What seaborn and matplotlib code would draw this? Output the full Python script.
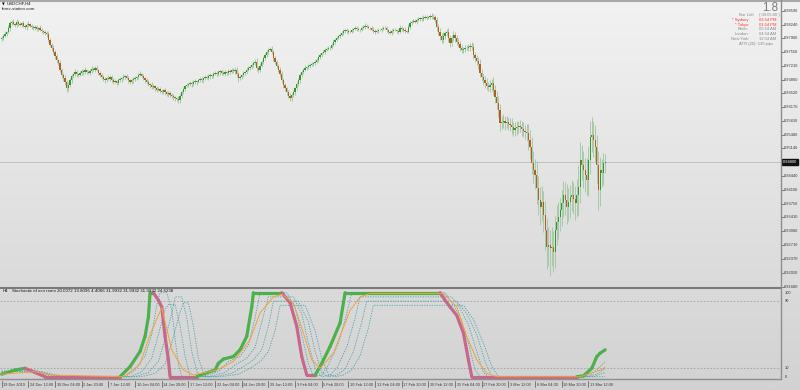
import numpy as np
import pandas as pd
import matplotlib
matplotlib.use("Agg")
import matplotlib.pyplot as plt
import seaborn as sns
from matplotlib.collections import LineCollection
from matplotlib.lines import Line2D
from matplotlib.transforms import blended_transform_factory as blend

sns.set_theme(style="white")
plt.rcParams["font.family"] = ["Liberation Sans", "DejaVu Sans"]

# ---------------- data ----------------
symbol = "USDCHF,H4"
first_open = 0.9788
close = [
    0.9791, 0.9796, 0.9801, 0.9806, 0.9816, 0.9828, 0.9831, 0.9826, 0.9823, 0.9831,
    0.9826, 0.9823, 0.9828, 0.9821, 0.9818, 0.9823, 0.9826, 0.9821, 0.9818, 0.9816,
    0.9818, 0.9813, 0.9816, 0.9811, 0.9808, 0.9806, 0.9803, 0.9801, 0.9786, 0.9773,
    0.9766, 0.9756, 0.9745, 0.9735, 0.9728, 0.9711, 0.9698, 0.9690, 0.9680, 0.9665,
    0.9673, 0.9685, 0.9695, 0.9700, 0.9705, 0.9700, 0.9698, 0.9703, 0.9708, 0.9705,
    0.9711, 0.9705, 0.9703, 0.9708, 0.9713, 0.9711, 0.9716, 0.9711, 0.9703, 0.9698,
    0.9693, 0.9688, 0.9685, 0.9690, 0.9688, 0.9693, 0.9685, 0.9680, 0.9683, 0.9678,
    0.9685, 0.9688, 0.9690, 0.9693, 0.9695, 0.9690, 0.9685, 0.9680, 0.9685, 0.9688,
    0.9690, 0.9693, 0.9698, 0.9700, 0.9695, 0.9690, 0.9685, 0.9680, 0.9675, 0.9673,
    0.9668, 0.9670, 0.9665, 0.9660, 0.9663, 0.9658, 0.9655, 0.9660, 0.9655, 0.9650,
    0.9653, 0.9648, 0.9645, 0.9643, 0.9640, 0.9638, 0.9635, 0.9645, 0.9655, 0.9663,
    0.9670, 0.9673, 0.9675, 0.9678, 0.9675, 0.9680, 0.9683, 0.9680, 0.9685, 0.9688,
    0.9685, 0.9690, 0.9693, 0.9690, 0.9695, 0.9698, 0.9695, 0.9700, 0.9703, 0.9700,
    0.9705, 0.9708, 0.9703, 0.9700, 0.9705, 0.9703, 0.9708, 0.9705, 0.9711, 0.9708,
    0.9711, 0.9700, 0.9690, 0.9693, 0.9698, 0.9703, 0.9705, 0.9711, 0.9716, 0.9718,
    0.9723, 0.9728, 0.9731, 0.9716, 0.9711, 0.9721, 0.9731, 0.9740, 0.9748, 0.9756,
    0.9761, 0.9763, 0.9756, 0.9740, 0.9731, 0.9721, 0.9711, 0.9700, 0.9685, 0.9673,
    0.9665, 0.9655, 0.9645, 0.9640, 0.9648, 0.9655, 0.9665, 0.9675, 0.9685, 0.9698,
    0.9705, 0.9711, 0.9716, 0.9718, 0.9721, 0.9723, 0.9726, 0.9728, 0.9731, 0.9735,
    0.9743, 0.9748, 0.9753, 0.9756, 0.9761, 0.9763, 0.9766, 0.9766, 0.9773, 0.9781,
    0.9786, 0.9791, 0.9796, 0.9798, 0.9803, 0.9808, 0.9811, 0.9808, 0.9806, 0.9806,
    0.9811, 0.9813, 0.9816, 0.9813, 0.9811, 0.9811, 0.9816, 0.9818, 0.9821, 0.9818,
    0.9816, 0.9816, 0.9811, 0.9808, 0.9806, 0.9808, 0.9811, 0.9811, 0.9813, 0.9816,
    0.9816, 0.9811, 0.9806, 0.9803, 0.9808, 0.9811, 0.9811, 0.9808, 0.9806, 0.9816,
    0.9813, 0.9811, 0.9808, 0.9806, 0.9818, 0.9828, 0.9831, 0.9833, 0.9831, 0.9836,
    0.9838, 0.9841, 0.9838, 0.9841, 0.9843, 0.9841, 0.9843, 0.9846, 0.9843, 0.9843,
    0.9836, 0.9818, 0.9806, 0.9796, 0.9786, 0.9796, 0.9803, 0.9806, 0.9791, 0.9778,
    0.9791, 0.9798, 0.9791, 0.9781, 0.9776, 0.9766, 0.9761, 0.9763, 0.9766, 0.9766,
    0.9768, 0.9771, 0.9768, 0.9748, 0.9740, 0.9733, 0.9726, 0.9703, 0.9693, 0.9685,
    0.9678, 0.9670, 0.9668, 0.9673, 0.9678, 0.9660, 0.9643, 0.9628, 0.9610, 0.9578,
    0.9580, 0.9583, 0.9578, 0.9580, 0.9575, 0.9573, 0.9568, 0.9560, 0.9565, 0.9568,
    0.9570, 0.9568, 0.9563, 0.9558, 0.9555, 0.9553, 0.9535, 0.9518, 0.9478, 0.9460,
    0.9448, 0.9415, 0.9385, 0.9367, 0.9380, 0.9347, 0.9310, 0.9267, 0.9272, 0.9265,
    0.9267, 0.9255, 0.9310, 0.9330, 0.9342, 0.9360, 0.9377, 0.9397, 0.9385, 0.9367,
    0.9380, 0.9392, 0.9397, 0.9387, 0.9377, 0.9397, 0.9417, 0.9485, 0.9473, 0.9460,
    0.9448, 0.9435, 0.9485, 0.9543, 0.9548, 0.9535, 0.9518, 0.9473, 0.9410, 0.9460,
    0.9452, 0.9478, 0.9480,
]
wick_up = [  # pips
    5,4,6,3,8,5,4,6,3,7,4,5,3,6,4,5,7,3,4,6,
    4,5,3,6,4,3,5,4,6,5,4,7,5,6,4,8,5,6,7,5,
    8,6,5,4,7,5,3,6,4,5,6,3,5,4,7,4,5,6,3,5,
    4,6,5,3,7,4,5,6,4,3,6,5,4,7,3,5,6,4,5,4,
    6,3,5,7,4,5,3,6,5,4,7,5,3,6,4,5,6,4,5,3,
    5,4,6,5,3,4,7,8,6,5,4,6,3,5,4,6,5,3,4,6,
    5,3,4,6,5,4,3,5,6,4,5,3,6,4,5,3,4,6,5,4,
    6,8,5,4,3,5,4,6,5,4,6,5,7,9,5,6,4,5,6,5,
    4,6,7,5,6,4,5,6,7,5,6,4,5,7,6,5,4,6,5,4,
    5,4,6,3,5,4,5,3,4,6,5,4,3,5,4,6,5,4,5,6,
    4,5,3,6,4,5,3,4,6,5,4,3,5,4,6,3,4,5,6,4,
    5,3,4,6,5,4,5,3,6,4,5,4,3,5,6,4,5,3,4,7,
    5,4,6,3,7,5,4,6,5,4,5,3,4,6,5,4,3,5,6,8,
    6,7,8,9,7,10,6,8,9,7,8,10,7,6,9,8,7,6,8,7,
    8,7,9,10,8,9,11,12,10,9,11,12,10,13,11,14,12,15,18,16,
    14,16,12,15,13,14,16,12,15,14,13,16,15,18,14,20,22,25,24,30,
    28,35,30,32,40,28,35,30,45,38,50,40,35,42,38,30,34,36,32,40,
    35,30,38,34,32,40,55,45,38,35,30,42,36,40,45,35,38,30,34,32,
    28,25,20,
]
wick_dn = [  # pips
    4,6,3,5,4,7,5,3,6,4,5,3,6,4,5,7,4,3,6,5,
    5,4,6,3,5,6,4,7,5,6,8,5,6,7,5,6,8,7,6,9,
    7,5,6,5,4,6,5,3,5,6,4,5,3,6,5,4,6,3,5,4,
    5,4,6,5,3,6,4,5,3,6,4,5,7,4,5,3,6,4,5,6,
    4,5,6,3,5,4,6,5,4,7,5,4,6,5,3,6,4,5,6,4,
    6,5,4,7,6,5,8,6,4,5,6,3,5,4,6,4,5,6,3,5,
    4,6,5,3,4,6,5,4,3,5,4,6,5,3,4,5,6,4,3,5,
    7,6,9,5,4,6,5,4,3,5,4,6,5,8,7,5,4,6,5,4,
    5,4,6,7,5,6,5,7,6,8,6,7,5,6,7,5,6,4,5,6,
    4,5,3,6,4,5,3,5,4,3,5,4,6,3,5,4,3,5,4,3,
    5,3,4,5,3,4,6,4,5,3,4,5,3,6,4,5,3,4,5,3,
    4,5,3,4,6,3,5,4,5,3,4,6,5,3,4,5,4,6,5,4,
    4,6,5,4,3,5,6,4,3,5,4,6,5,4,3,5,4,6,5,4,
    8,9,7,10,8,7,9,8,10,9,7,8,10,9,7,8,9,7,8,6,
    7,9,8,11,10,9,12,10,11,13,12,10,11,12,14,13,15,16,18,20,
    16,15,18,14,16,15,17,14,16,18,15,14,17,16,18,20,25,30,28,32,
    35,40,38,45,36,42,50,55,48,70,45,50,40,38,42,36,40,35,38,42,
    36,40,34,38,42,36,50,40,38,45,42,38,40,35,38,42,36,45,50,40,
    35,30,25,
]
time_labels = ["19 Dec 2019", "24 Dec 12:00", "30 Dec 04:00", "2 Jan 20:00", "7 Jan 12:00",
               "10 Jan 04:00", "14 Jan 20:00", "17 Jan 12:00", "22 Jan 04:00", "24 Jan 20:00",
               "29 Jan 12:00", "3 Feb 04:00", "5 Feb 20:00", "10 Feb 12:00", "13 Feb 04:00",
               "17 Feb 20:00", "20 Feb 12:00", "25 Feb 04:00", "27 Feb 20:00", "3 Mar 12:00",
               "6 Mar 04:00", "10 Mar 20:00", "13 Mar 12:00"]
price_ticks = [0.98590, 0.98240, 0.97900, 0.97550, 0.97210, 0.96860, 0.96520, 0.96170,
               0.95830, 0.95480, 0.95140, 0.94440, 0.94100, 0.93750, 0.93410, 0.93060,
               0.92710, 0.92370, 0.92020, 0.91680]

# indicator (bar index, value)
main_x = [0, 8, 14, 20, 26, 71, 77, 83, 86, 88, 89, 91, 94, 96, 98, 100, 101, 117, 119, 128,
          130, 133, 139, 143, 147, 150, 151, 168, 173, 177, 180, 183, 188, 191, 197, 203, 206,
          263, 266, 269, 273, 277, 280, 282, 345, 349, 354, 357, 359, 362]
main_v = [3, 8, 10, 5, 0, 0, 12, 30, 48, 71, 100, 100, 91, 83, 48, 20, 0, 0, 2, 8,
          16, 21, 24, 32, 48, 83, 100, 100, 88, 60, 24, 2, 2, 12, 36, 64, 100,
          100, 91, 83, 73, 52, 20, 0, 0, 1, 10, 24, 28, 32]
sig_x = [0, 20, 30, 71, 74, 83, 89, 96, 102, 109, 115, 129, 139, 149, 155, 163, 168, 175,
         181, 186, 191, 199, 209, 215, 221, 265, 273, 279, 285, 291, 297, 347, 359, 362]
sig_v = [3, 6, 2, 0, 1, 15, 50, 82, 32, 8, 2, 8, 18, 44, 76, 95, 98, 88,
         52, 20, 10, 28, 79, 95, 99, 99, 83, 48, 20, 4, 0, 0, 8, 11]
t1_x = [0, 11, 17, 24, 30, 74, 80, 86, 90, 93, 95, 99, 102, 104, 106, 108, 120, 130, 136, 143,
        148, 152, 155, 171, 176, 180, 184, 187, 192, 196, 202, 207, 210, 266, 270, 275, 280,
        284, 287, 348, 354, 359, 362]
t1_v = [4, 8, 9, 4, 0, 0, 8, 25, 50, 85, 100, 100, 80, 45, 15, 0, 0, 6, 18, 24,
        38, 70, 100, 100, 82, 50, 15, 0, 2, 14, 40, 75, 100, 100, 88, 72, 40,
        8, 0, 0, 3, 12, 18]
t2_x = [0, 14, 20, 28, 34, 77, 84, 90, 94, 98, 100, 104, 107, 110, 113, 124, 134, 140, 147,
        152, 156, 160, 175, 180, 184, 188, 192, 197, 201, 207, 212, 215, 270, 274, 280, 285,
        289, 292, 351, 357, 362]
t2_v = [5, 7, 8, 3, 0, 0, 6, 22, 50, 80, 86, 86, 60, 25, 0, 0, 5, 14, 22,
        35, 65, 95, 95, 75, 40, 10, 0, 2, 10, 35, 70, 95, 95, 85, 62, 30,
        5, 0, 0, 3, 10]
t3_x = [0, 18, 24, 32, 38, 80, 88, 94, 98, 102, 104, 108, 111, 114, 118, 128, 138, 145, 151,
        156, 160, 163, 178, 184, 188, 192, 196, 201, 206, 211, 216, 219, 273, 279, 285, 290,
        294, 355, 362]
t3_v = [6, 6, 6, 2, 0, 0, 5, 18, 45, 75, 95, 95, 70, 30, 0, 0, 4, 12, 20,
        32, 60, 90, 90, 65, 30, 5, 0, 2, 9, 30, 65, 90, 90, 75, 50, 18,
        0, 0, 5]
t4_x = [0, 22, 36, 42, 84, 92, 98, 102, 106, 109, 112, 115, 118, 122, 132, 142, 149, 155, 160,
        164, 167, 182, 188, 192, 196, 200, 205, 210, 215, 220, 223, 277, 283, 289, 294, 298, 362]
t4_v = [7, 5, 1, 0, 0, 4, 15, 40, 70, 88, 88, 60, 22, 0, 0, 3, 10, 18, 30,
        55, 85, 85, 55, 22, 3, 0, 2, 8, 25, 58, 85, 85, 68, 40, 12, 0, 0]
level_hi, level_lo = 90, 10
ind_title = "Stochastic of ocn rsmo 20.0072 19.8096 4.4066 31.9932 31.9932 31.9932 24.6238"

# ---------------- layout ----------------
W, H = 800, 390
fig = plt.figure(figsize=(W / 100, H / 100), dpi=100)
fx = lambda px: px / W
fy = lambda py: 1 - py / H

bg = fig.add_axes([0, 0, 1, 1], zorder=-10)
g = np.linspace(242, 210, 256)[:, None] / 255.0
bg.imshow(np.dstack([g, g, g]), aspect="auto", extent=[0, 1, 0, 1])
bg.axis("off")

XL = (-1.02, 467.5)
PTOP, PBOT = 0.98858, 0.91656
ax = fig.add_axes([0, fy(287.5), fx(781), 287.5 / H])
ax2 = fig.add_axes([0, fy(378.5), fx(781), 90 / H])
for a in (ax, ax2):
    a.set_facecolor("none")
    a.set_xlim(*XL)
    for s in a.spines.values():
        s.set_visible(False)
    a.set_xticks([])
    a.set_yticks([])
ax.set_ylim(PBOT, PTOP)
ax2.set_ylim(-2.14, 105)

# ---------------- candles ----------------
c = np.array(close)
o = np.array([first_open] + close[:-1])
idx = np.arange(len(c))
hi = np.maximum(o, c) + np.array(wick_up) * 0.0001
lo = np.minimum(o, c) - np.array(wick_dn) * 0.0001
ax.vlines(idx, lo, hi, color="#a9c9a9", lw=0.7, zorder=2)
bull = c >= o
hgt = np.maximum(np.abs(c - o), 0.00005)
bot = np.minimum(o, c)
ax.bar(idx[bull], hgt[bull], bottom=bot[bull], width=0.75, color="#2e9a2e", lw=0, zorder=3)
ax.bar(idx[~bull], hgt[~bull], bottom=bot[~bull], width=0.75, color="#b0601c", lw=0, zorder=3)
ax.axhline(close[-1], color="#bcbcbc", lw=0.6, zorder=1)

# ---------------- indicator ----------------
for lv in (level_hi, level_lo):
    ax2.axhline(lv, color="#a0a0a0", lw=0.6, ls=(0, (2, 2)), zorder=1)

teal = "#4aa3a8"
for tx, tv in ((t1_x, t1_v), (t2_x, t2_v), (t3_x, t3_v), (t4_x, t4_v)):
    sns.lineplot(x=tx, y=tv, ax=ax2, color=teal, lw=0.6, ls=(0, (1.5, 1.5)),
                 estimator=None, sort=False, zorder=2)

segs, cols = [], []
for i in range(len(main_x) - 1):
    v1, v2 = main_v[i], main_v[i + 1]
    segs.append([(main_x[i], v1), (main_x[i + 1], v2)])
    if v2 > v1 or (v2 == v1 and v1 >= 50):
        cols.append("#4cb04c")
    else:
        cols.append("#c7678c")
ax2.add_collection(LineCollection(segs, colors=cols, linewidths=2.3, capstyle="round",
                                  joinstyle="round", zorder=3))
sns.lineplot(x=sig_x, y=sig_v, ax=ax2, color="#f0a23c", lw=0.7, estimator=None, sort=False,
             zorder=4)

# ---------------- frame lines ----------------
def fline(x0, y0, x1, y1, color, lw):
    fig.add_artist(Line2D([fx(x0), fx(x1)], [fy(y0), fy(y1)], color=color, lw=lw,
                          transform=fig.transFigure, zorder=20))

fline(0, 0.6, 800, 0.6, "#9a9a9a", 1.2)
fline(0, 288, 781, 288, "#7a7a7a", 1.5)
fline(781, 0, 781, 379, "#8e8e8e", 1.0)
fline(0, 379, 781, 379, "#8e8e8e", 1.0)

# ---------------- price axis ----------------
tr = blend(fig.transFigure, ax.transData)
for v in price_ticks:
    ax.plot([fx(781), fx(783.5)], [v, v], color="#555555", lw=0.5, transform=tr, clip_on=False)
    ax.text(fx(784), v, f"{v:.5f}", transform=tr, fontsize=2.85, color="#3a3a3a",
            va="center", ha="left", clip_on=False)
ax.text(fx(782.5), close[-1], f"{close[-1]:.5f}", transform=tr, fontsize=2.85, color="white",
        va="center", ha="left", clip_on=False,
        bbox=dict(boxstyle="square,pad=0.25", fc="#111111", ec="#111111"))

tr2 = blend(fig.transFigure, ax2.transData)
for v, lab in ((100, "100"), (level_hi, str(level_hi)), (level_lo, str(level_lo)), (0, "0")):
    ax2.text(fx(785), v, lab, transform=tr2, fontsize=2.9, color="#3a3a3a",
             va="center", ha="left", clip_on=False)

# ---------------- time axis ----------------
trx = blend(ax2.transData, fig.transFigure)
for i, lab in enumerate(time_labels):
    b = 16 * i
    ax2.plot([b, b], [fy(380.5), fy(387)], color="#555555", lw=0.5, transform=trx, clip_on=False)
    ax2.text(b + 1.0, fy(384.5), lab, transform=trx, fontsize=2.8, color="#3a3a3a",
             va="center", ha="left", clip_on=False)

# ---------------- texts ----------------
fig.text(fx(2), fy(4), "\u25BC", fontsize=2.6, color="#111111", va="center", ha="left",
         family=["DejaVu Sans"])
fig.text(fx(7), fy(4), symbol, fontsize=3.2, color="#111111", va="center", ha="left")
fig.text(fx(1.5), fy(9), "forex-station.com", fontsize=3.2, color="#222222", va="center", ha="left")
fig.text(fx(3), fy(291.5), "H4", fontsize=3.2, color="#111111", va="center", ha="left")
fig.text(fx(12), fy(291.5), ind_title, fontsize=3.2, color="#111111", va="center", ha="left")

fig.text(fx(778.5), fy(7.6), "1.8", fontsize=8.4, color="#7c7c7c", va="center", ha="right")
info_rows = [("Bar Left", "( 00:05:00 )", "#8a8a8a"),
             ("* Sydney", "03:54 PM", "#ff3333"),
             ("* Tokyo", "01:54 PM", "#ff3333"),
             ("Berlin", "05:54 AM", "#8a8a8a"),
             ("London", "04:54 AM", "#8a8a8a"),
             ("New York", "12:54 AM", "#8a8a8a")]
for k, (name, val, col) in enumerate(info_rows):
    yy = 15.3 + 4.7 * k
    fig.text(fx(754 if k == 0 else 748), fy(yy), name, fontsize=3.0, color=col,
             va="center", ha="right")
    fig.text(fx(759), fy(yy), val, fontsize=3.0, color=col, va="center", ha="left")
fig.text(fx(773), fy(43.5), "ATR (20): 130 pips", fontsize=3.0, color="#8a8a8a",
         va="center", ha="right")

fig.savefig("out.png", dpi=100)
